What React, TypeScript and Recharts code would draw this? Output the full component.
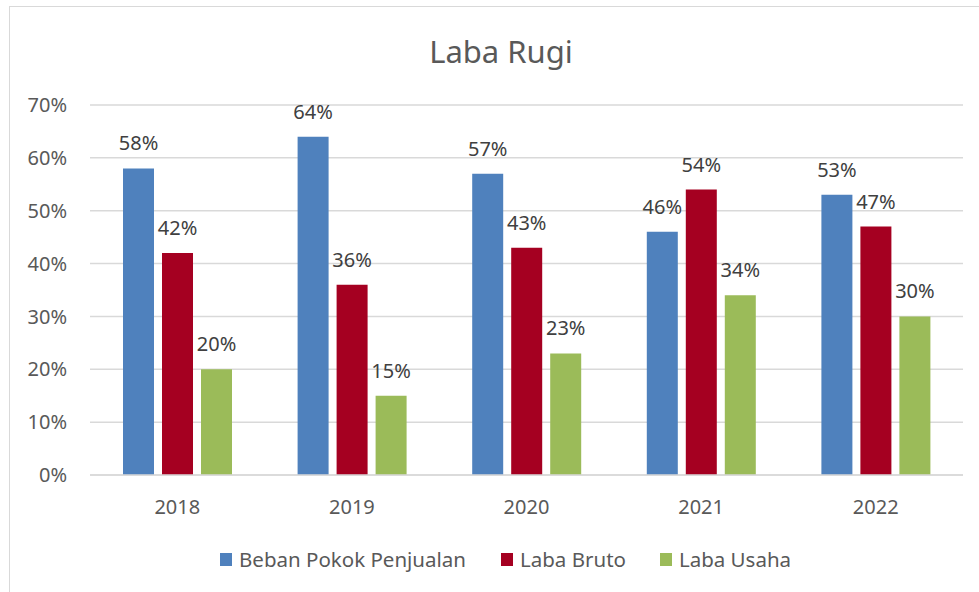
import React from 'react';
import { BarChart, Bar, XAxis, YAxis, CartesianGrid, Legend, LabelList } from 'recharts';

const years = ['2018', '2019', '2020', '2021', '2022'];
const bebanPokok = [58, 64, 57, 46, 53];
const labaBruto = [42, 36, 43, 54, 47];
const labaUsaha = [20, 15, 23, 34, 30];
const yTicks = [0, 10, 20, 30, 40, 50, 60, 70];

const seriesNames = ['Beban Pokok Penjualan', 'Laba Bruto', 'Laba Usaha'];
const colors = ['#4F81BD', '#A50021', '#9BBB59'];

const data = years.map((y, i) => ({
  year: y,
  beban: bebanPokok[i],
  bruto: labaBruto[i],
  usaha: labaUsaha[i],
}));

const FONT = '"Noto Sans", sans-serif';
const legendGaps = [35, 34, 0];

const LegendContent = () => (
  <div style={{ display: 'flex', alignItems: 'center', fontFamily: FONT, fontSize: 20.5, color: '#595959', lineHeight: '27px' }}>
    {seriesNames.map((n, i) => (
      <div key={n} style={{ display: 'flex', alignItems: 'center', marginRight: legendGaps[i] }}>
        <div style={{ width: 12, height: 13, background: colors[i], marginRight: 7 }} />
        <span>{n}</span>
      </div>
    ))}
  </div>
);

export default function App() {
  const pct = (v: number) => `${v}%`;
  return (
    <div style={{ position: 'absolute', left: 0, top: 0, width: 979, height: 592, overflow: 'hidden', background: '#fff' }}>
      <div style={{ position: 'absolute', left: 9, top: 6, width: 1100, height: 700, border: '1.5px solid #d9d9d9', boxSizing: 'border-box' }} />
      <div style={{ position: 'absolute', left: 0, top: 30, width: 1002, textAlign: 'center', fontFamily: FONT, fontSize: 31, color: '#595959' }}>
        Laba Rugi
      </div>
      <div style={{ position: 'absolute', left: 0, top: 0 }}>
        <BarChart
          width={979}
          height={592}
          data={data}
          margin={{ top: 105, right: 16, bottom: 60, left: 30 }}
          barGap={8}
          barCategoryGap={33}
        >
          <CartesianGrid vertical={false} stroke="#d9d9d9" strokeWidth={1.5} />
          <XAxis
            dataKey="year"
            axisLine={{ stroke: '#d9d9d9', strokeWidth: 1.5 }}
            tickLine={false}
            tickSize={0}
            tickMargin={25}
            tick={{ fill: '#595959', fontSize: 20, fontFamily: FONT }}
          />
          <YAxis
            width={60}
            domain={[0, 70]}
            ticks={yTicks}
            tickFormatter={pct}
            axisLine={false}
            tickLine={false}
            tickSize={0}
            tickMargin={23}
            tick={{ fill: '#595959', fontSize: 20, fontFamily: FONT }}
          />
          <Legend content={<LegendContent />} wrapperStyle={{ left: 220, top: 546, width: 'auto' }} />
          <Bar dataKey="beban" name={seriesNames[0]} fill={colors[0]} isAnimationActive={false}>
            <LabelList dataKey="beban" position="top" offset={18} formatter={pct} style={{ fill: '#404040', fontSize: 20, fontFamily: FONT }} />
          </Bar>
          <Bar dataKey="bruto" name={seriesNames[1]} fill={colors[1]} isAnimationActive={false}>
            <LabelList dataKey="bruto" position="top" offset={18} formatter={pct} style={{ fill: '#404040', fontSize: 20, fontFamily: FONT }} />
          </Bar>
          <Bar dataKey="usaha" name={seriesNames[2]} fill={colors[2]} isAnimationActive={false}>
            <LabelList dataKey="usaha" position="top" offset={18} formatter={pct} style={{ fill: '#404040', fontSize: 20, fontFamily: FONT }} />
          </Bar>
        </BarChart>
      </div>
    </div>
  );
}
